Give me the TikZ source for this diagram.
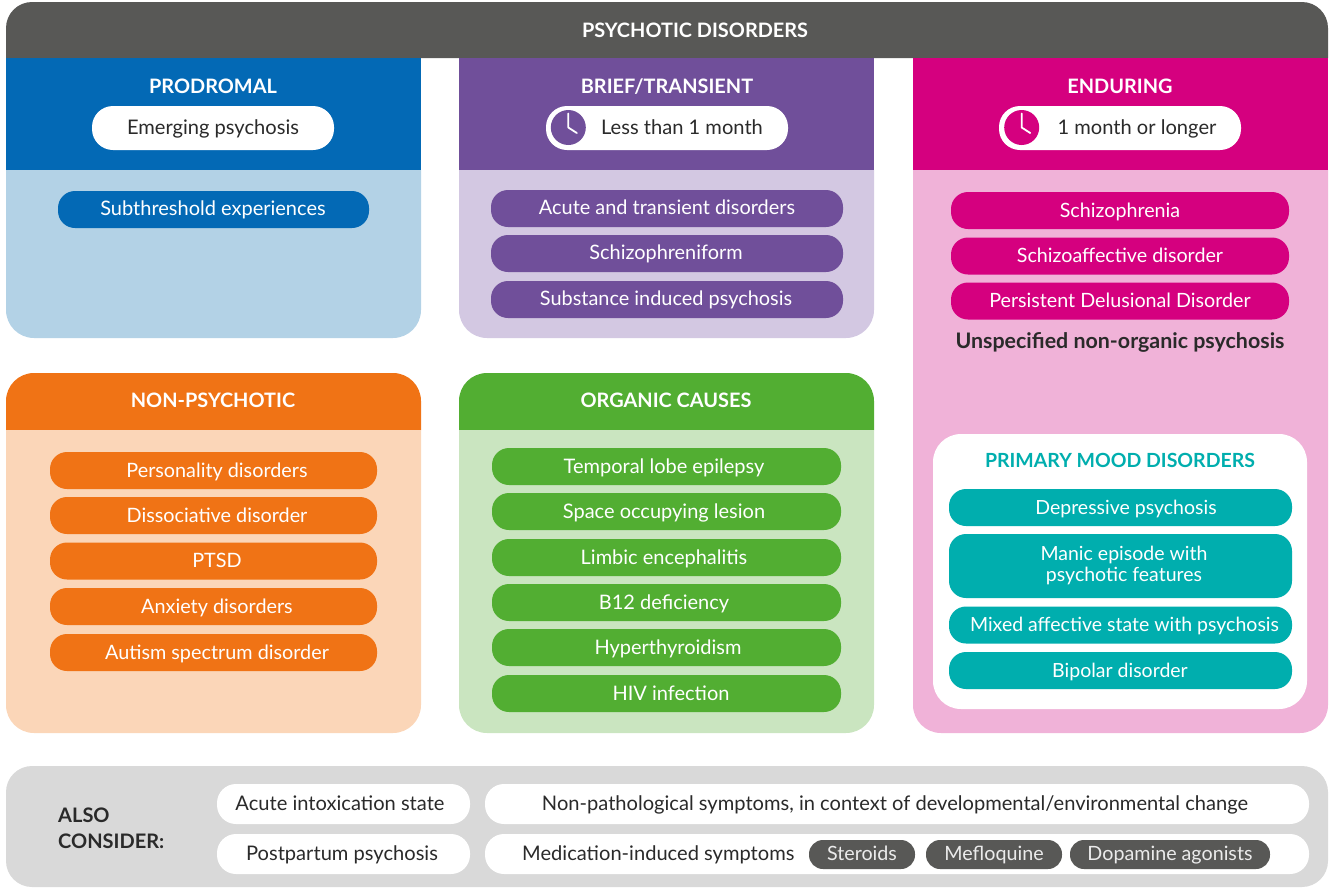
\documentclass[tikz,border=0pt]{standalone}
\usepackage{fontspec}
\setmainfont{Lato}
\usetikzlibrary{calc}
\definecolor{darkgrey}{HTML}{585856}
\definecolor{lightgrey}{HTML}{D9D9D9}
\definecolor{inktext}{HTML}{2A2A2A}
\definecolor{blueA}{HTML}{0369B5}
\definecolor{blueB}{HTML}{B3D2E6}
\definecolor{purpleA}{HTML}{704F9A}
\definecolor{purpleB}{HTML}{D3C8E2}
\definecolor{magentaA}{HTML}{D5007F}
\definecolor{magentaB}{HTML}{F0B2D8}
\definecolor{orangeA}{HTML}{F07315}
\definecolor{orangeB}{HTML}{FBD6B8}
\definecolor{greenA}{HTML}{52AE32}
\definecolor{greenB}{HTML}{CAE5C0}
\definecolor{tealA}{HTML}{00AEAE}
\tikzset{
    pillbox/.style={rectangle,rounded corners=17pt,inner sep=0pt,minimum height=37pt},
    pilltext/.style={inner sep=0pt,text=white,text height=14.5pt,text depth=1.5pt,font=\fontsize{20}{24}\selectfont},
    inktextnode/.style={inner sep=0pt,text=inktext,text height=14.5pt,text depth=1.5pt,font=\fontsize{20.1}{24}\selectfont},
    headtext/.style={inner sep=0pt,text=white,text height=14.5pt,text depth=0pt,font=\fontsize{19.9}{24}\selectfont\bfseries},
    clockhand/.style={white,line width=1.8pt,line cap=round,line join=round}
}
\begin{document}
\begin{tikzpicture}[x=1pt,y=-1pt]
                \useasboundingbox (0,0) rectangle (1334,887);
                % Top banner
                \fill[darkgrey] (6,58) [rounded corners=26pt] -- (6,2) -- (1328,2) [sharp corners] -- (1328,58) -- cycle;
                \node[headtext] (title) at (695,30) {PSYCHOTIC DISORDERS};
                % Upper panels
                \foreach \x/\yb/\colA/\colB in {6/338/blueA/blueB, 459/338/purpleA/purpleB, 913/733/magentaA/magentaB} {
                    \fill[\colA] (\x,58) rectangle (\x+415,170);
                    \fill[\colB] (\x,170) [rounded corners=28pt] -- (\x,\yb) -- (\x+415,\yb) [sharp corners] -- (\x+415,170) -- cycle;
                }
                % Lower panels
                \foreach \x/\colA/\colB in {6/orangeA/orangeB, 459/greenA/greenB} {
                    \fill[\colA] (\x,430) [rounded corners=28pt] -- (\x,373) -- (\x+415,373) [sharp corners] -- (\x+415,430) -- cycle;
                    \fill[\colB] (\x,430) [rounded corners=28pt] -- (\x,733) -- (\x+415,733) [sharp corners] -- (\x+415,430) -- cycle;
                }
                % Panel headings
                \foreach \nm/\x/\y/\txt in {prodromal/213/86/PRODROMAL, brief/667/86/{BRIEF/TRANSIENT}, enduring/1120/86/ENDURING, nonpsy/213/400/NON-PSYCHOTIC, organic/666/400/ORGANIC CAUSES} {
                    \node[headtext] (\nm) at (\x,\y) {\txt};
                }
                % Duration pills
                \foreach \nm/\x/\tx/\txt in {emerging/213/213/Emerging psychosis, month/667/682/Less than 1 month, longer/1120/1137/1 month or longer} {
                    \node[pillbox,fill=white,minimum width=242pt,minimum height=44pt,rounded corners=21pt] (\nm) at (\x,128) {};
                    \node[inktextnode] (\nm text) at (\tx,127.5) {\txt};
                }
                % Clocks
                \foreach \x/\col in {568.3/purpleA, 1021.7/magentaA} {
                    \fill[\col] (\x,127.5) circle (17.5);
                    \draw[clockhand] (\x,113.5) -- (\x,127.5) -- (\x+8.5,133);
                }
                % Prodromal pill
                \node[pillbox,fill=blueA,minimum width=311pt] (sub) at (213.5,209.5) {};
                \node[pilltext] (sub text) at (213,209) {Subthreshold experiences};
                % Brief pills
                \foreach \nm/\y/\tx/\txt in {acute/208.5/667/Acute and transient disorders, form/253.5/666/Schizophreniform, subst/299.5/666/Substance induced psychosis} {
                    \node[pillbox,fill=purpleA,minimum width=352pt] (\nm) at (667,\y) {};
                    \node[pilltext,font=\fontsize{19.9}{24}\selectfont] (\nm text) at (\tx,\y-.5) {\txt};
                }
                % Enduring pills
                \foreach \nm/\y/\txt in {schiz/210.5/Schizophrenia, affect/256/Schizoaffective disorder, delus/301/Persistent Delusional Disorder} {
                    \node[pillbox,fill=magentaA,minimum width=338pt] (\nm) at (1120,\y) {};
                    \node[pilltext,font=\fontsize{19.7}{24}\selectfont] (\nm text) at (1120,\y) {\txt};
                }
                \node[inktextnode,font=\fontsize{21.4}{24}\selectfont\bfseries] (unspec) at (1120,341.5) {Unspecified non-organic psychosis};
                % Mood disorders box
                \node[rectangle,fill=white,rounded corners=28pt,inner sep=0pt,minimum width=374pt,minimum height=275pt] (moodbox) at (1120,571.5) {};
                \node[headtext,text=tealA,font=\fontsize{19.5}{24}\selectfont\bfseries] (mood) at (1120,460) {PRIMARY MOOD DISORDERS};
                \foreach \nm/\y/\tx/\txt in {depress/507.5/1126/Depressive psychosis, mixed/625/1124.5/Mixed affective state with psychosis, bipolar/670.5/1120/Bipolar disorder} {
                    \node[pillbox,fill=tealA,minimum width=343pt] (\nm) at (1120.5,\y) {};
                    \node[pilltext,font=\fontsize{19.5}{24}\selectfont] (\nm text) at (\tx,\y) {\txt};
                }
                \node[pillbox,fill=tealA,minimum width=343pt,minimum height=64pt] (manic) at (1120.5,566) {};
                \node[inner sep=0pt,text=white,align=center,font=\fontsize{19.5}{21}\selectfont] (manic text) at (1124,565.5) {Manic episode with\\psychotic features};
                % Non-psychotic pills
                \foreach \nm/\y/\txt in {person/470.5/Personality disorders, dissoc/515.5/Dissociative disorder, ptsd/561/PTSD, anxiety/606.5/Anxiety disorders, autism/652.5/Autism spectrum disorder} {
                    \node[pillbox,fill=orangeA,minimum width=327pt] (\nm) at (213.5,\y) {};
                    \node[pilltext,font=\fontsize{19.8}{24}\selectfont] (\nm text) at (217,\y) {\txt};
                }
                % Organic pills
                \foreach \nm/\y/\tx/\txt in {temporal/466.5/664/Temporal lobe epilepsy, space/511.5/664/Space occupying lesion, limbic/557.5/664/Limbic encephalitis, btwelve/602.5/664/B12 deficiency, thyroid/647.5/668/Hyperthyroidism, hiv/693.5/671/HIV infection} {
                    \node[pillbox,fill=greenA,minimum width=349pt] (\nm) at (666.5,\y) {};
                    \node[pilltext] (\nm text) at (\tx,\y) {\txt};
                }
                % Also consider
                \fill[lightgrey,rounded corners=26pt] (6,766) rectangle (1328,887);
                \node[inktextnode,text height=,text depth=,font=\fontsize{20}{26}\selectfont\bfseries,anchor=west,align=left] (also) at (58,828.5) {ALSO\\CONSIDER:};
                \foreach \nm/\x/\y/\w/\tx/\txt in {intox/343.5/804/253/340/Acute intoxication state, postp/343.5/854/253/342/Postpartum psychosis, nonpath/897/804/824/895/{Non-pathological symptoms, in context of developmental/environmental change}} {
                    \node[pillbox,fill=white,minimum width=\w pt,minimum height=40pt,rounded corners=19pt] (\nm) at (\x,\y) {};
                    \node[inktextnode] (\nm text) at (\tx,\y) {\txt};
                }
                \node[pillbox,fill=white,minimum width=824pt,minimum height=40pt,rounded corners=19pt] (medic) at (897,854) {};
                \node[inktextnode,anchor=west] (medic text) at (522,854) {Medication-induced symptoms};
                \foreach \nm/\x/\w/\txt in {steroid/862/106/Steroids, meflo/994/136/Mefloquine, dopa/1170/200/Dopamine agonists} {
                    \node[pillbox,fill=darkgrey,minimum width=\w pt,minimum height=29pt,rounded corners=14pt] (\nm) at (\x,854.5) {};
                    \node[pilltext,text=white!92!black,font=\fontsize{19.7}{24}\selectfont] (\nm text) at (\x,854) {\txt};
                }
\end{tikzpicture}
\end{document}
